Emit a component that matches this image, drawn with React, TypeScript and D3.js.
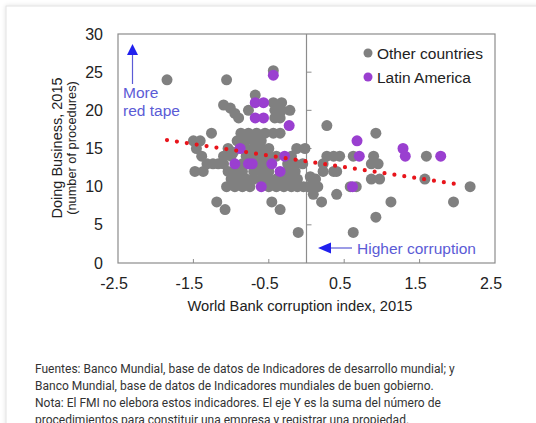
import React from "react";
import * as d3 from "d3";

const otherX = [
  -1.85, -1.06, -1.1, -1.01, -0.95, -1.26, -1.5, -1.41, -1.46, -1.39, -1.32, -1.24, -1.17, -1.48, -1.37, -1.19, -1.08,
  -0.44, -0.68, -0.44, -0.33, -0.77, -0.42, -0.33, -0.22, -0.9, -0.42, -0.35,
  -0.87, -0.77, -0.66, -0.55, -0.44, -0.35,
  -0.92, -0.81, -0.7, -0.6,
  -1.04, -0.97, -0.8, -0.7, -0.6, -0.5, -0.13, -0.02,
  -1.1, -1.0, -0.8, -0.7, -0.6, -0.5, -0.4, -0.2,
  -1.1, -0.85, -0.65, -0.55, -0.25, -0.15, -0.05,
  -1.04, -0.93, -0.85, -0.7, -0.6, -0.5, -0.25, -0.15,
  -1.0, -0.9, -0.8, -0.7, -0.6, -0.5, -0.4, -0.3, -0.2, -0.12,
  -1.06, -0.95, -0.85, -0.75, -0.5, -0.4, -0.3, -0.2, -0.12, -0.04, 0.02,
  -0.46, -0.35, -0.11,
  0.27, 0.92, 0.27, 0.36, 0.44, 0.62, 0.89, 1.59, 0.22, 0.86, 0.95, 0.22, 0.36, 0.4,
  0.05, 0.12, 0.86, 0.97, 1.57, 0.05, 0.15, 0.58, 0.66, 0.09, 0.4, 0.2, 1.12, 1.95, 0.92, 0.62, 2.17,
];
const otherY = [
  24, 24, 20.7, 20.3, 19.6, 17, 16, 16, 15, 14, 13, 13, 13, 12, 12, 8, 7,
  25.2, 22, 21, 21, 20, 20, 20, 20, 19, 19, 19,
  17, 17, 17, 17, 17, 17,
  16, 16, 16, 16,
  15, 14.5, 15, 15, 15, 15, 15, 15,
  14, 14, 14, 14, 14, 14, 14, 14,
  13, 13, 13, 13, 13, 13, 13,
  12, 12, 12, 12, 12, 12, 12, 12,
  11, 11, 11, 11, 11, 11, 11, 11, 11, 11,
  10, 10, 10, 10, 10, 10, 10, 10, 10, 10, 10,
  8, 7, 4,
  18, 17, 14, 14, 14, 14, 14, 14, 13, 13, 13, 12, 12, 12,
  11.3, 11, 11, 11, 11, 10, 10, 10, 10, 9, 9, 8, 8, 8, 6, 4, 10,
];
const latamX = [-0.44, -0.68, -0.57, -0.68, -0.57, -0.23, -0.88, -0.95, -0.77, -0.72, -0.46, -0.29, -0.35, -0.6, 0.67, 0.7, 1.28, 1.31, 1.78, 0.61];
const latamY = [24.6, 21, 21, 19, 19, 18, 15, 13, 13, 13, 13, 14, 12, 10, 16, 14, 15, 14, 14, 10];

const trendX = [-1.85, 2.08];
const trendY = [16.1, 10.2];

const xTicks = [-2.5, -1.5, -0.5, 0.5, 1.5, 2.5];
const yTicks = [0, 5, 10, 15, 20, 25, 30];

const footer = [
  "Fuentes: Banco Mundial, base de datos de Indicadores de desarrollo mundial; y",
  "Banco Mundial, base de datos de Indicadores mundiales de buen gobierno.",
  "Nota: El FMI no elebora estos indicadores. El eje Y es la suma del número de",
  "procedimientos para constituir una empresa y registrar una propiedad.",
];

export default function App() {
  const W = 536, H = 423;
  const L = 118, R = 495, T = 34, B = 263;
  const x = d3.scaleLinear().domain([-2.5, 2.5]).range([L, R]);
  const y = d3.scaleLinear().domain([0, 30]).range([B, T]);
  const font = "Arial, 'Liberation Sans', sans-serif";
  const axisCol = "#8c8c8c";
  const gray = "#808080";
  const purple = "#9a3fd0";
  const blue = "#5b5bd6";
  const trendLine = d3.line<number>().x((_, i) => x(trendX[i])).y((_, i) => y(trendY[i]));

  return (
    <svg width={W} height={H} style={{ position: "absolute", left: 0, top: 0, background: "#fff" }} fontFamily={font}>
      <defs>
        <filter id="sh" x="-5%" y="-5%" width="110%" height="110%">
          <feDropShadow dx="0" dy="0" stdDeviation="2" floodColor="#000" floodOpacity="0.12" />
        </filter>
      </defs>
      <rect x={6} y={6} width={W + 20} height={H + 20} fill="#fff" stroke="#e2e2e2" filter="url(#sh)" />
      {/* plot frame */}
      <rect x={L} y={T} width={R - L} height={B - T} fill="none" stroke={axisCol} strokeWidth={1.2} />
      <line x1={x(0)} x2={x(0)} y1={T} y2={B} stroke={axisCol} strokeWidth={1.2} />
      {yTicks.slice(1, -1).map((t) => (
        <line key={"yt" + t} x1={x(0)} x2={x(0) + 5} y1={y(t)} y2={y(t)} stroke={axisCol} />
      ))}
      {xTicks.slice(1, -1).map((t) => (
        <line key={"xt" + t} x1={x(t)} x2={x(t)} y1={B} y2={B - 4} stroke={axisCol} />
      ))}
      {/* tick labels */}
      {yTicks.map((t) => (
        <text key={"yl" + t} x={103} y={y(t) + 5.5} textAnchor="end" fontSize={16} fill="#222">{t}</text>
      ))}
      {xTicks.map((t) => (
        <text key={"xl" + t} x={x(t) - 4} y={289} textAnchor="middle" fontSize={16} fill="#222">{t.toFixed(1)}</text>
      ))}
      <text x={300} y={311} textAnchor="middle" fontSize={14.7} fill="#222">World Bank corruption index, 2015</text>
      <text transform="translate(62,148) rotate(-90)" textAnchor="middle" fontSize={14.5} fill="#222">Doing Business, 2015</text>
      <text transform="translate(76,148) rotate(-90)" textAnchor="middle" fontSize={12.8} fill="#222">(number of procedures)</text>
      {/* points */}
      {otherX.map((v, i) => (
        <circle key={"o" + i} cx={x(v)} cy={y(otherY[i])} r={5.5} fill={gray} />
      ))}
      {latamX.map((v, i) => (
        <circle key={"l" + i} cx={x(v)} cy={y(latamY[i])} r={5.5} fill={purple} />
      ))}
      {/* trend */}
      <path d={trendLine(trendX) || ""} fill="none" stroke="#e8141b" strokeWidth={4.2} strokeLinecap="round" strokeDasharray="0 10" />
      {/* legend */}
      <circle cx={368} cy={53} r={4.5} fill={gray} />
      <text x={377} y={58.5} fontSize={15.5} fill="#222">Other countries</text>
      <circle cx={368} cy={77} r={4.5} fill={purple} />
      <text x={377} y={82.5} fontSize={15.5} fill="#222">Latin America</text>
      {/* annotations */}
      <line x1={132.5} x2={132.5} y1={54} y2={84} stroke={blue} strokeWidth={1.2} />
      <path d="M132.5,44 L127,55 L138,55 Z" fill="#2020ee" />
      <text x={123} y={97.5} fontSize={15.5} fill={blue}>More</text>
      <text x={123} y={115.5} fontSize={15.5} fill={blue}>red tape</text>
      <line x1={330} x2={352} y1={248} y2={248} stroke={blue} strokeWidth={1.2} />
      <path d="M318,248 L331,242.5 L331,253.5 Z" fill="#2020ee" />
      <text x={357} y={253.5} fontSize={15.5} fill={blue}>Higher corruption</text>
      {/* footer */}
      {footer.map((s, i) => (
        <text key={"f" + i} x={35} y={372.5 + i * 17.3} fontSize={12} fill="#333" fontFamily="Roboto, sans-serif">{s}</text>
      ))}
    </svg>
  );
}
